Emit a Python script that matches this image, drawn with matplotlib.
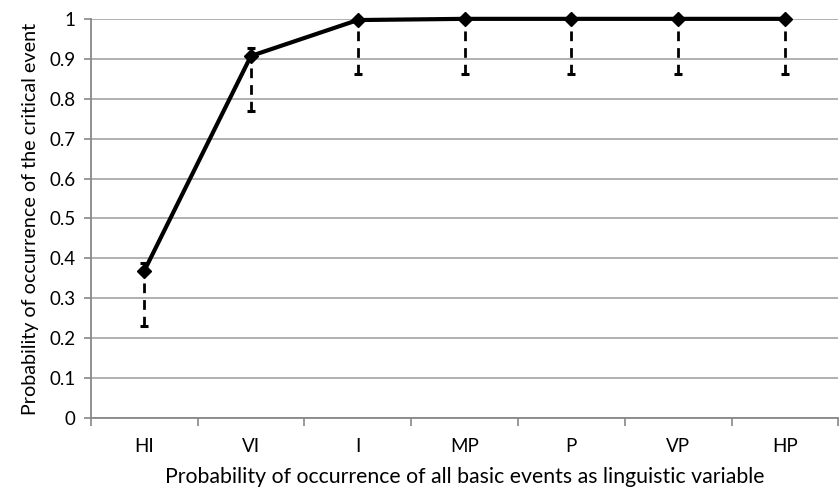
import numpy as np
import matplotlib.pyplot as plt

categories = ["HI", "VI", "I", "MP", "P", "VP", "HP"]
values = [0.368, 0.907, 0.997, 1.0, 1.0, 1.0, 1.0]
upper = [0.388, 0.927, 1.0, 1.0, 1.0, 1.0, 1.0]
lower = [0.230, 0.770, 0.862, 0.862, 0.862, 0.862, 0.862]

plt.rcParams['font.family'] = ['Lato', 'DejaVu Sans']

fig = plt.figure(figsize=(8.4, 4.96), dpi=100)
ax = fig.add_axes([0.108, 0.157, 0.890, 0.805])

x = np.arange(len(categories))
vals = np.array(values)
yerr = np.array([vals - np.array(lower), np.array(upper) - vals])

eb = ax.errorbar(x, vals, yerr=yerr, fmt='none', ecolor='black', elinewidth=2,
                 capsize=3, capthick=2.2, zorder=3)
eb[2][0].set_linestyle((0, (3.5, 2.5)))
for c in eb[1]:
    c.set_clip_on(False)
ax.plot(x, vals, color='black', lw=3, marker='D', markersize=7.5, zorder=4, clip_on=False)

ax.set_xlim(-0.5, len(categories) - 0.5)
ax.set_ylim(0, 1)
ax.set_yticks(np.arange(0, 1.01, 0.1))
ax.set_yticklabels(["0", "0.1", "0.2", "0.3", "0.4", "0.5", "0.6", "0.7", "0.8", "0.9", "1"])
ax.set_xticks(x)
ax.set_xticklabels(categories)
ax.set_xticks(np.arange(-0.5, len(categories), 1), minor=True)
ax.tick_params(axis='x', which='major', length=0, pad=14, labelsize=13.5)
ax.tick_params(axis='x', which='minor', length=6, color='#888888', width=1.2)
ax.tick_params(axis='y', length=5, color='#888888', width=1.2, labelsize=13.5, pad=6)

ax.grid(axis='y', color='#aaaaaa', lw=1.3, zorder=0)
ax.set_axisbelow(True)
for s in ['top', 'right']:
    ax.spines[s].set_visible(False)
for s in ['left', 'bottom']:
    ax.spines[s].set_color('#888888')
    ax.spines[s].set_linewidth(1.3)

ax.set_xlabel("Probability of occurrence of all basic events as linguistic variable", fontsize=15.3, labelpad=9)
ax.set_ylabel("Probability of occurrence of the critical event", fontsize=14.2, labelpad=7)

fig.savefig("out.png", dpi=100)
